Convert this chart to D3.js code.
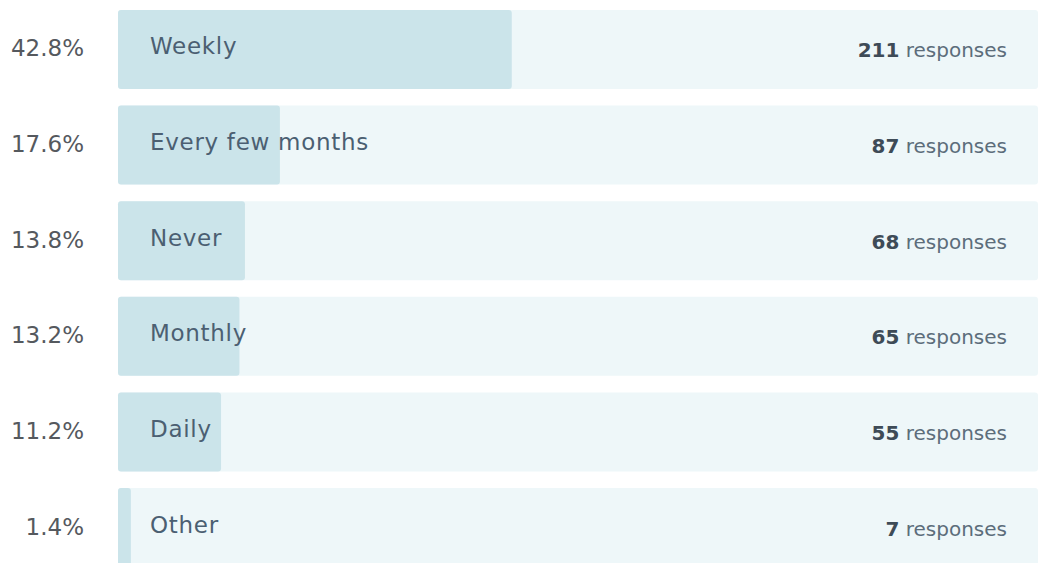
<!DOCTYPE html>
<html>
<head>
<meta charset="utf-8">
<script src="https://cdn.jsdelivr.net/npm/d3@7"></script>
<style>
  body { margin: 0; background: #fff; }
  text { font-family: "DejaVu Sans", "Liberation Sans", Arial, sans-serif; }
</style>
</head>
<body>
<div id="chart"></div>
<script>
// Survey answers
var categories = ["Weekly", "Every few months", "Never", "Monthly", "Daily", "Other"];
var percents = [42.8, 17.6, 13.8, 13.2, 11.2, 1.4];
var counts = [211, 87, 68, 65, 55, 7];

var width = 1038, height = 563;
var left = 118;

var svg = d3.select("#chart")
  .append("svg")
    .attr("width", width)
    .attr("height", height);

// x maps percent onto the track
var x = d3.scaleLinear().domain([0, 100]).range([0, width - left]);
var y = d3.scaleBand()
  .domain(categories)
  .range([10, 567])
  .paddingInner(0.174)
  .paddingOuter(0);

var data = categories.map(function(c, i) {
  return {cat: c, pct: percents[i], n: counts[i]};
});

var rows = svg.selectAll("g.row")
  .data(data)
  .enter()
  .append("g")
    .attr("class", "row")
    .attr("transform", function(d) { return "translate(0," + y(d.cat) + ")"; });

// background track
rows.append("rect")
  .attr("x", left)
  .attr("width", x(100))
  .attr("height", y.bandwidth())
  .attr("rx", 3)
  .attr("fill", "#eef7f9");

// filled portion
rows.append("rect")
  .attr("x", left)
  .attr("width", function(d) { return x(d.pct); })
  .attr("height", y.bandwidth())
  .attr("rx", 3)
  .attr("fill", "#cbe4ea");

var mid = y.bandwidth() / 2;

rows.append("text")
  .attr("x", 84)
  .attr("y", mid + 7)
  .attr("text-anchor", "end")
  .attr("font-size", 23)
  .attr("fill", "#55595e")
  .text(function(d) { return d.pct.toFixed(1) + "%"; });

rows.append("text")
  .attr("x", 150)
  .attr("y", mid + 5)
  .attr("font-size", 23)
  .attr("letter-spacing", 0.7)
  .attr("fill", "#4b5f72")
  .text(function(d) { return d.cat; });

var resp = rows.append("text")
  .attr("x", 1007)
  .attr("y", mid + 8)
  .attr("text-anchor", "end")
  .attr("font-size", 20)
  .attr("fill", "#5c6d7b");

resp.append("tspan")
  .attr("font-weight", "bold")
  .attr("fill", "#3e4b57")
  .text(function(d) { return d.n; });

resp.append("tspan")
  .text(" responses");
</script>
</body>
</html>
